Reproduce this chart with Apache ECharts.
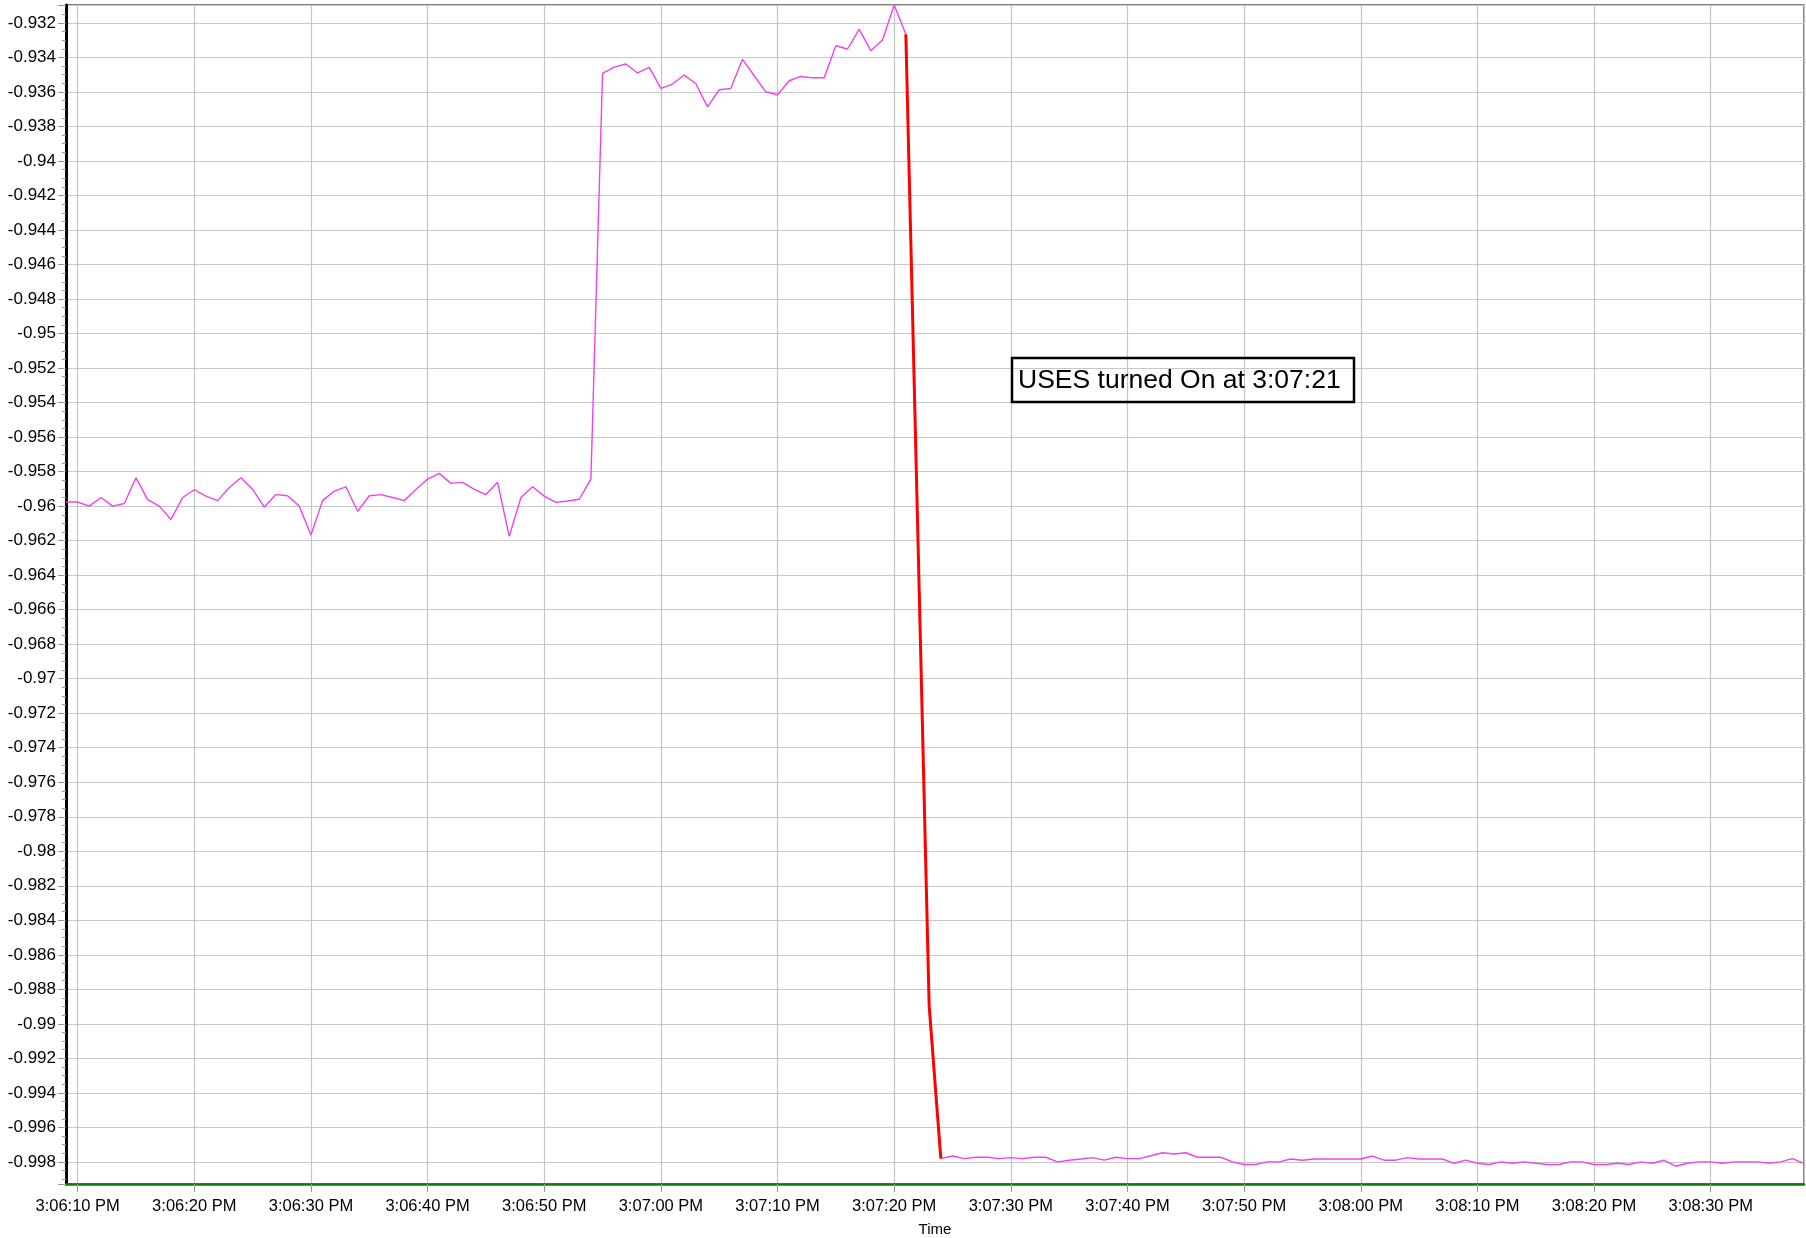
<!DOCTYPE html>
<html>
<head>
<meta charset="utf-8">
<script src="https://cdn.jsdelivr.net/npm/echarts@6.0.0/dist/echarts.min.js"></script>
<style>
  html, body { margin: 0; padding: 0; background: #fff; }
  #chart { width: 1806px; height: 1238px; }
</style>
</head>
<body>
<div id="chart"></div>
<script>
// Time values are seconds after 3:06:00 PM
const timesBefore = [9,10,11,12,13,14,15,16,17,18,19,20,21,22,23,24,25,26,27,28,29,30,31,32,33,34,35,36,37,38,39,40,41,42,43,44,45,46,47,48,49,50,51,52,53,54,55,56,57,58,59,60,61,62,63,64,65,66,67,68,69,70,71,72,73,74,75,76,77,78,79,80,81];
const valuesBefore = [-0.95976,-0.95976,-0.96000,-0.95950,-0.96000,-0.95985,-0.95835,-0.95962,-0.96000,-0.96077,-0.95950,-0.95905,-0.95942,-0.95968,-0.95892,-0.95835,-0.95903,-0.96005,-0.95933,-0.95940,-0.96000,-0.96167,-0.95968,-0.95913,-0.95888,-0.96030,-0.95940,-0.95933,-0.95950,-0.95968,-0.95903,-0.95843,-0.95810,-0.95868,-0.95862,-0.95903,-0.95933,-0.95862,-0.96175,-0.95950,-0.95888,-0.95942,-0.95978,-0.95970,-0.95960,-0.95843,-0.93492,-0.93456,-0.93438,-0.93490,-0.93457,-0.93579,-0.93554,-0.93502,-0.93552,-0.93686,-0.93587,-0.93579,-0.93411,-0.93506,-0.93599,-0.93616,-0.93535,-0.93510,-0.93518,-0.93518,-0.93332,-0.93351,-0.93237,-0.93361,-0.93299,-0.93096,-0.93266];

const timesDrop = [81,82,83,84];
const valuesDrop = [-0.93266,-0.96081,-0.98896,-0.99781];

const timesAfter = [84,85,86,87,88,89,90,91,92,93,94,95,96,97,98,99,100,101,102,103,104,105,106,107,108,109,110,111,112,113,114,115,116,117,118,119,120,121,122,123,124,125,126,127,128,129,130,131,132,133,134,135,136,137,138,139,140,141,142,143,144,145,146,147,148,149,150,151,152,153,154,155,156,157,158];
const valuesAfter = [-0.99781,-0.99766,-0.99781,-0.99773,-0.99773,-0.99781,-0.99775,-0.99781,-0.99773,-0.99773,-0.99800,-0.99790,-0.99783,-0.99775,-0.99790,-0.99773,-0.99781,-0.99781,-0.99764,-0.99747,-0.99754,-0.99747,-0.99773,-0.99773,-0.99773,-0.99800,-0.99815,-0.99815,-0.99800,-0.99800,-0.99783,-0.99790,-0.99783,-0.99783,-0.99783,-0.99783,-0.99783,-0.99766,-0.99790,-0.99790,-0.99775,-0.99783,-0.99783,-0.99783,-0.99808,-0.99790,-0.99808,-0.99815,-0.99800,-0.99808,-0.99800,-0.99808,-0.99815,-0.99815,-0.99800,-0.99800,-0.99815,-0.99815,-0.99808,-0.99815,-0.99800,-0.99808,-0.99790,-0.99825,-0.99808,-0.99800,-0.99800,-0.99808,-0.99800,-0.99800,-0.99800,-0.99808,-0.99800,-0.99781,-0.99808];

const annotationText = 'USES turned On at 3:07:21';
const xAxisName = 'Time';

function zip(xs, ys) { return xs.map((x, i) => [x, ys[i]]); }
function fmtTime(s) {
  const total = 15 * 3600 + 6 * 60 + Math.round(s);
  const h = Math.floor(total / 3600);
  const m = Math.floor((total % 3600) / 60);
  const sec = total % 60;
  const h12 = (h % 12) || 12;
  const ap = h >= 12 ? 'PM' : 'AM';
  return h12 + ':' + String(m).padStart(2, '0') + ':' + String(sec).padStart(2, '0') + ' ' + ap;
}

const FONT = '"Liberation Sans", Arial, sans-serif';
const chart = echarts.init(document.getElementById('chart'), null, { renderer: 'canvas' });
chart.setOption({
  animation: false,
  backgroundColor: '#ffffff',
  grid: { left: 66, top: 5, right: 2, bottom: 54, containLabel: false, outerBoundsMode: 'none', show: true, borderColor: '#555', borderWidth: 1.5, backgroundColor: 'transparent' },
  xAxis: {
    type: 'value',
    min: 9, max: 158,
    splitNumber: 15,
    name: xAxisName,
    nameLocation: 'middle',
    nameGap: 38,
    nameTextStyle: { color: '#000', fontSize: 15, fontFamily: FONT },
    axisLine: { show: true, onZero: false, lineStyle: { color: '#0b7a0b', width: 2.5 } },
    axisTick: { show: true, length: 8, lineStyle: { color: '#999', width: 1 } },
    axisLabel: { showMinLabel: false, showMaxLabel: false, margin: 14, color: '#000', fontSize: 16.5, fontFamily: FONT, formatter: v => fmtTime(v) },
    splitLine: { show: true, lineStyle: { color: '#c4c4c4', width: 1.2 } }
  },
  yAxis: {
    type: 'value',
    min: -0.99928, max: -0.93096,
    splitNumber: 34,
    axisLine: { show: true, onZero: false, lineStyle: { color: '#000', width: 3 } },
    axisTick: { show: true, length: 8, lineStyle: { color: '#999', width: 1 } },
    minorTick: { show: true, splitNumber: 4, length: 4, lineStyle: { color: '#999', width: 1 } },
    axisLabel: { showMinLabel: false, showMaxLabel: false, margin: 10, color: '#000', fontSize: 17, fontFamily: FONT, formatter: v => String(+v.toFixed(3)) },
    splitLine: { show: true, lineStyle: { color: '#c8c8c8', width: 1.2 } }
  },
  series: [
    { type: 'line', data: zip(timesBefore, valuesBefore), showSymbol: false, symbol: 'none', lineStyle: { color: '#f040f0', width: 1.4 }, z: 3 },
    { type: 'line', data: zip(timesAfter, valuesAfter), showSymbol: false, symbol: 'none', lineStyle: { color: '#f040f0', width: 1.4 }, z: 3 },
    { type: 'line', data: zip(timesDrop, valuesDrop), showSymbol: false, symbol: 'none', lineStyle: { color: '#ff0000', width: 3 }, z: 4 }
  ],
  graphic: [
    { type: 'rect', x: 1012, y: 358, shape: { x: 0, y: 0, width: 342, height: 44 }, style: { fill: 'none', stroke: '#000', lineWidth: 2.5 }, z: 10 },
    { type: 'text', x: 1018, y: 381, style: { text: annotationText, fill: '#000', font: '26.5px ' + FONT, textVerticalAlign: 'middle', verticalAlign: 'middle' }, z: 10 }
  ]
});
</script>
</body>
</html>
